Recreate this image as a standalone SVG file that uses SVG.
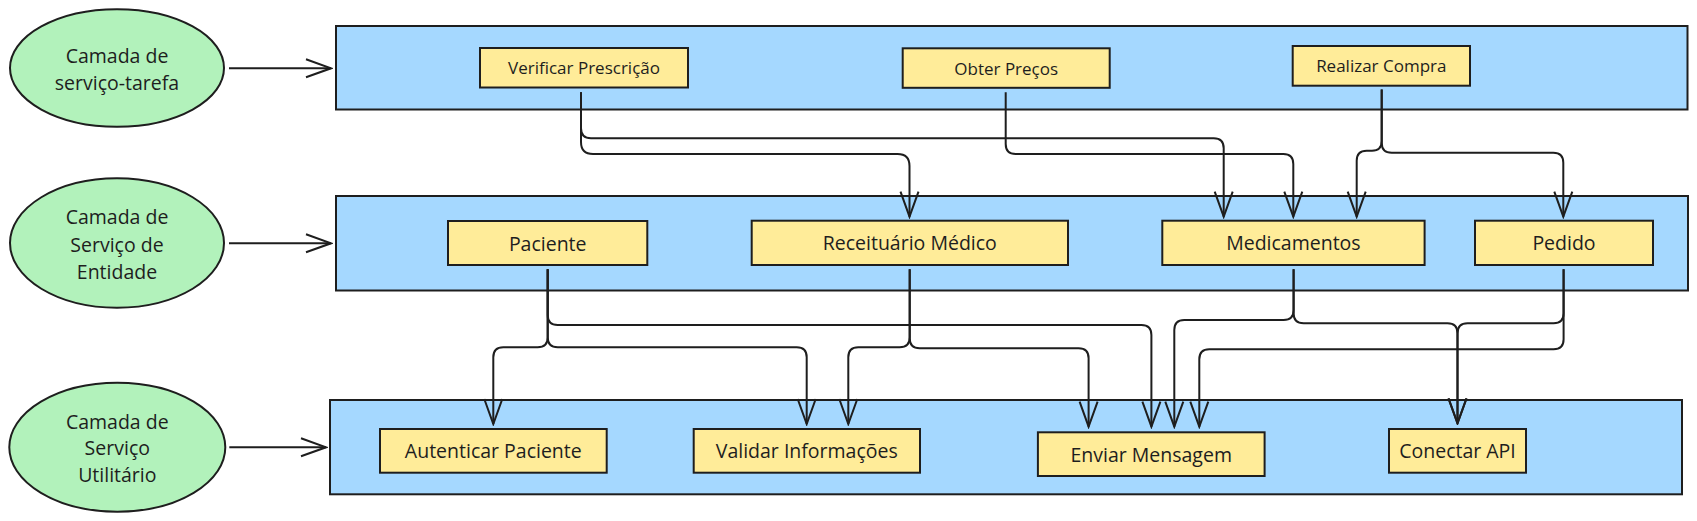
<svg xmlns="http://www.w3.org/2000/svg" width="1697" height="521" viewBox="0 0 1697 521">
<defs>
<style>
.lane{fill:#a5d8ff;stroke:#1e1e1e;stroke-width:2}
.node{fill:#ffec99;stroke:#1e1e1e;stroke-width:2}
.layer{fill:#b2f2bb;stroke:#1e1e1e;stroke-width:2}
.t{font-family:"Open Sans","Noto Sans",sans-serif;fill:#1e1e1e;text-anchor:middle;dominant-baseline:central}
.s{font-size:17px}
.m{font-size:19.5px}
.c{fill:none;stroke:#1e1e1e;stroke-width:2;marker-end:url(#arr)}
</style>
<marker id="arr" markerUnits="userSpaceOnUse" markerWidth="28" markerHeight="22" viewBox="0 0 28 22" refX="26" refY="11" orient="auto">
<path d="M1 2 L26 11 L1 20" fill="none" stroke="#1e1e1e" stroke-width="2"/>
</marker>
</defs>
<rect width="1697" height="521" fill="#ffffff"/>

<g id="lane-tarefa"><rect class="lane" x="336" y="26" width="1351.5" height="83.5"/></g>
<g id="lane-entidade"><rect class="lane" x="336" y="196" width="1352" height="94.5"/></g>
<g id="lane-utilitario"><rect class="lane" x="330" y="400" width="1352" height="94.3"/></g>

<g id="layer-tarefa"><ellipse class="layer" cx="117" cy="68" rx="107" ry="58.7"/>
<text class="t m" x="117" y="55">Camada de</text><text class="t m" x="117" y="82">serviço-tarefa</text></g>
<g id="layer-entidade"><ellipse class="layer" cx="117" cy="243" rx="107" ry="64.7"/>
<text class="t m" x="117" y="216.7">Camada de</text><text class="t m" x="117" y="244">Serviço de</text><text class="t m" x="117" y="271">Entidade</text></g>
<g id="layer-utilitario"><ellipse class="layer" cx="117.3" cy="447.2" rx="108" ry="64.5"/>
<text class="t m" x="117.3" y="421">Camada de</text><text class="t m" x="117.3" y="447.7">Serviço</text><text class="t m" x="117.3" y="474.3">Utilitário</text></g>

<g id="n-verificar"><rect class="node" x="480" y="48" width="208" height="39.5"/><text class="t s" x="584" y="67.8">Verificar Prescrição</text></g>
<g id="n-obter"><rect class="node" x="902.7" y="48.3" width="207" height="39.5"/><text class="t s" x="1006.2" y="68">Obter Preços</text></g>
<g id="n-realizar"><rect class="node" x="1292.7" y="46" width="177.3" height="39.7"/><text class="t s" x="1381.3" y="65.8">Realizar Compra</text></g>

<g id="n-paciente"><rect class="node" x="448" y="221" width="199.3" height="44"/><text class="t m" x="547.7" y="243">Paciente</text></g>
<g id="n-receituario"><rect class="node" x="751.7" y="220.7" width="316.3" height="44.3"/><text class="t m" x="909.8" y="242.8">Receituário Médico</text></g>
<g id="n-medicamentos"><rect class="node" x="1162.3" y="220.7" width="262.3" height="44.3"/><text class="t m" x="1293.4" y="242.8">Medicamentos</text></g>
<g id="n-pedido"><rect class="node" x="1475" y="220.7" width="178" height="44.3"/><text class="t m" x="1564" y="242.8">Pedido</text></g>

<g id="n-autenticar"><rect class="node" x="380" y="429" width="226.7" height="43.7"/><text class="t m" x="493.3" y="450.8">Autenticar Paciente</text></g>
<g id="n-validar"><rect class="node" x="693.7" y="429" width="226.3" height="43.7"/><text class="t m" x="806.8" y="450.8">Validar Informações</text></g>
<g id="n-enviar"><rect class="node" x="1037.9" y="432.3" width="226.7" height="43.7"/><text class="t m" x="1151.2" y="454.1">Enviar Mensagem</text></g>
<g id="n-conectar"><rect class="node" x="1389" y="429" width="137" height="43.7"/><text class="t m" x="1457.5" y="450.8">Conectar API</text></g>

<g id="connectors">
<path class="c" d="M229 68.3 H331"/>
<path class="c" d="M229 243.3 H331"/>
<path class="c" d="M229.3 447.3 H326"/>

<path class="c" d="M581 92.3 V142 Q581 154 593 154 H897.5 Q909.5 154 909.5 166 V216.7"/>
<path class="c" d="M581 92.3 V128.3 Q581 138.3 591 138.3 H1213.7 Q1223.7 138.3 1223.7 148.3 V216.7"/>
<path class="c" d="M1005.7 92.3 V144 Q1005.7 154 1015.7 154 H1283.3 Q1293.3 154 1293.3 164 V216.7"/>
<path class="c" d="M1381.7 89.5 V141 Q1381.7 150.7 1372 150.7 H1366.7 Q1356.7 150.7 1356.7 160.7 V216.7"/>
<path class="c" d="M1381.7 89.5 V142.7 Q1381.7 152.7 1391.7 152.7 H1553.3 Q1563.3 152.7 1563.3 162.7 V216.7"/>

<path class="c" d="M547.7 269.3 V315 Q547.7 325 557.7 325 H1141.4 Q1151.4 325 1151.4 335 V426.7"/>
<path class="c" d="M547.7 269.3 V337.3 Q547.7 347.3 537.7 347.3 H503.3 Q493.3 347.3 493.3 357.3 V424"/>
<path class="c" d="M547.7 269.3 V337.3 Q547.7 347.3 557.7 347.3 H796.7 Q806.7 347.3 806.7 357.3 V424"/>
<path class="c" d="M909.7 269.3 V337.3 Q909.7 347.3 899.7 347.3 H858.3 Q848.3 347.3 848.3 357.3 V424"/>
<path class="c" d="M909.7 269.3 V338.3 Q909.7 348.3 919.7 348.3 H1078.6 Q1088.6 348.3 1088.6 358.3 V426.7"/>
<path class="c" d="M1293.6 269.3 V310 Q1293.6 320 1283.6 320 H1184.3 Q1174.3 320 1174.3 330 V426.7"/>
<path class="c" d="M1293.6 269.3 V313.3 Q1293.6 323.3 1303.6 323.3 H1447.5 Q1457.5 323.3 1457.5 333.3 V423.3"/>
<path class="c" d="M1563.6 269.3 V313.3 Q1563.6 323.3 1553.6 323.3 H1467.5 Q1457.5 323.3 1457.5 333.3 V423.3"/>
<path class="c" d="M1563.6 269.3 V339.3 Q1563.6 349.3 1553.6 349.3 H1209.3 Q1199.3 349.3 1199.3 359.3 V426.7"/>
</g>
</svg>
